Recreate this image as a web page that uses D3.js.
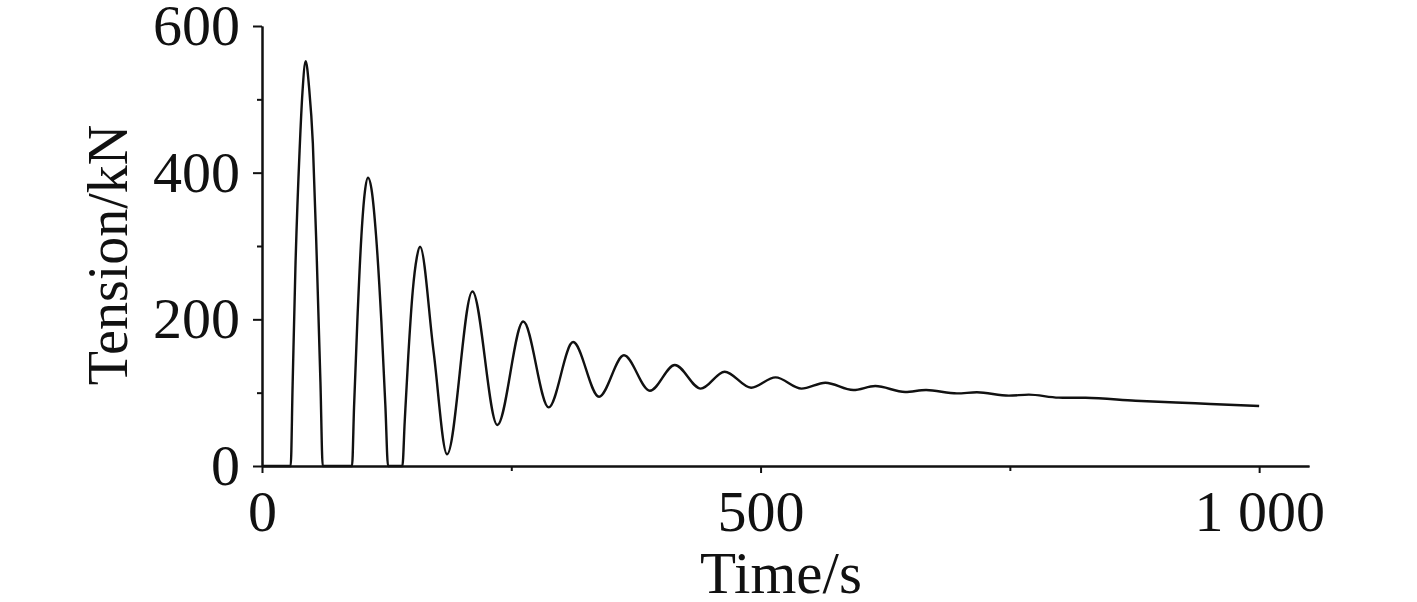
<!DOCTYPE html>
<html>
<head>
<meta charset="utf-8">
<script src="https://cdn.jsdelivr.net/npm/d3@7"></script>
<style>
  body { margin: 0; background: #fff; }
  svg text { font-family: "Liberation Serif", "Times New Roman", serif; fill: #111; }
  .axis path, .axis line { stroke: #111; stroke-width: 2; }
</style>
</head>
<body>
<svg id="chart"></svg>
<script>
// data: time (s) and tension (kN)
var time = [0, 28.8, 30.7, 33.5, 37.7, 40.6, 43.8, 47.3, 51, 55, 58.6, 60.9,
  90.3, 92.3, 95.6, 99.7, 103.1, 106.3, 110.3, 114.4, 119.7, 123.8, 126.4,
  140.8, 143.1, 146.7, 151.2, 155.2, 158.5, 172, 185.6,
  211, 236, 262, 287.5, 312, 338, 363, 389, 414, 440, 464, 490.5, 515, 541,
  565, 593, 615, 645, 666, 697, 717, 749, 769, 799, 826, 876, 936, 1000];
var tension = [0, 0, 110, 270, 430, 510, 552, 515, 440, 280, 115, 0,
  0, 80, 197, 314, 373, 393, 373, 314, 197, 80, 0,
  0, 60, 150, 239, 284, 299, 157, 16,
  238, 56, 197, 80, 169, 94.5, 151, 102.7, 137.7, 105.5, 128.6, 106.8, 120.8, 105.5,
  113.6, 103.6, 109, 101, 103.6, 99, 100.5, 95.9, 97.3, 93.2, 93, 89, 85.5, 81.8];

var xMajor = [0, 500, 1000];
var xMinor = [250, 750];
var xLabels = ['0', '500', '1 000'];
var yMajor = [0, 200, 400, 600];
var yMinor = [100, 300, 500];

var canvasWidth = 1417;
var canvasHeight = 602;

var svg = d3.select('#chart')
  .attr('width', canvasWidth)
  .attr('height', canvasHeight);

var xScale = d3.scaleLinear().domain([0, 1050]).range([262, 1309]);
var yScale = d3.scaleLinear().domain([0, 600]).range([466, 26]);

// x axis: major + minor ticks pointing down
svg.append('g')
  .attr('class', 'axis')
  .attr('transform', 'translate(0,466)')
  .call(d3.axisBottom(xScale).tickValues(xMinor).tickSize(5).tickSizeOuter(0).tickFormat(''));
var xAxis = svg.append('g')
  .attr('class', 'axis')
  .attr('transform', 'translate(0,466)')
  .call(d3.axisBottom(xScale).tickValues(xMajor).tickSize(7).tickSizeOuter(0)
    .tickPadding(17)
    .tickFormat(function(d, i) { return xLabels[i]; }));
xAxis.selectAll('text').style('font-size', '58px').attr('dy', '0.71em');

// y axis
svg.append('g')
  .attr('class', 'axis')
  .attr('transform', 'translate(262,0)')
  .call(d3.axisLeft(yScale).tickValues(yMinor).tickSize(5).tickSizeOuter(0).tickFormat(''));
var yAxis = svg.append('g')
  .attr('class', 'axis')
  .attr('transform', 'translate(262,0)')
  .call(d3.axisLeft(yScale).tickValues(yMajor).tickSize(9).tickSizeOuter(0).tickPadding(13));
yAxis.selectAll('text').style('font-size', '58px');
svg.selectAll('.axis text').style('fill', '#111');

// the tension curve
var points = time.map(function(t, i) { return [t, tension[i]]; });
var line = d3.line()
  .x(function(d) { return xScale(d[0]); })
  .y(function(d) { return yScale(d[1]); })
  .curve(d3.curveMonotoneX);

svg.append('path')
  .datum(points)
  .attr('d', line)
  .attr('fill', 'none')
  .attr('stroke', '#111')
  .attr('stroke-width', 2.4);

// axis labels
svg.append('text')
  .attr('x', 781)
  .attr('y', 593)
  .attr('text-anchor', 'middle')
  .style('font-size', '59px')
  .text('Time/s');

svg.append('text')
  .attr('transform', 'translate(127,255) rotate(-90)')
  .attr('text-anchor', 'middle')
  .style('font-size', '56px')
  .text('Tension/kN');
</script>
</body>
</html>
